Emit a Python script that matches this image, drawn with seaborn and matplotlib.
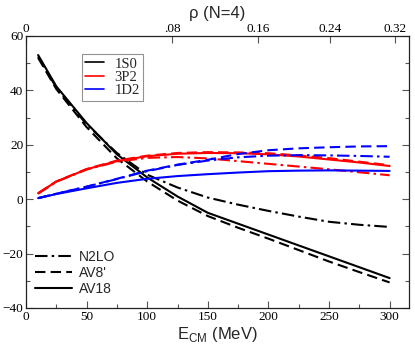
import numpy as np
import pandas as pd
import matplotlib
matplotlib.use("Agg")
import matplotlib.pyplot as plt
import seaborn as sns
from matplotlib.lines import Line2D
from matplotlib.ticker import MultipleLocator

# data (E_CM in MeV, phase shifts in degrees)
energy = [10, 25, 50, 75, 100, 125, 150, 175, 200, 225, 250, 275, 300]

s0_av18 = [53, 41.5, 28, 16.5, 8, 1, -5, -9, -13, -17, -21, -25, -29]
s0_av8p = [52, 40.5, 26.5, 15, 6.5, -0.5, -6.2, -10.5, -14.5, -18.7, -22.9, -26.8, -30.6]
s0_n2lo = [52.5, 41, 27.5, 17, 9, 4.3, 0.6, -2, -4.3, -6.4, -8.3, -9.4, -10.2]

p2_av18 = [2.2, 6.5, 11, 14, 15.8, 16.7, 17, 16.9, 16.5, 15.7, 14.6, 13.5, 12.2]
p2_av8p = [2.2, 6.5, 11.1, 14.2, 16, 17, 17.3, 17.2, 16.9, 16.1, 15.1, 13.8, 12.5]
p2_n2lo = [2.0, 6.4, 10.9, 13.8, 15.2, 15.5, 15, 14, 13, 12, 11, 9.9, 8.8]

d2_av18 = [0.4, 1.9, 4.0, 6.0, 7.5, 8.5, 9.2, 9.8, 10.3, 10.5, 10.6, 10.5, 10.4]
d2_av8p = [0.4, 2.0, 4.6, 7.5, 10.5, 12.7, 14.5, 16.6, 18.0, 18.7, 19.1, 19.4, 19.5]
d2_n2lo = [0.4, 2.0, 4.6, 7.4, 10.3, 12.6, 14.2, 15.4, 16.0, 16.2, 16.1, 15.9, 15.6]

waves = ["1S0", "3P2", "1D2"]
potentials = ["N2LO", "AV8'", "AV18"]
rho_ticks = [0, 0.08, 0.16, 0.24, 0.32]
rho_labels = ["0", ".08", "0.16", "0.24", "0.32"]

series = {
    ("1S0", "AV18"): s0_av18, ("1S0", "AV8'"): s0_av8p, ("1S0", "N2LO"): s0_n2lo,
    ("3P2", "AV18"): p2_av18, ("3P2", "AV8'"): p2_av8p, ("3P2", "N2LO"): p2_n2lo,
    ("1D2", "AV18"): d2_av18, ("1D2", "AV8'"): d2_av8p, ("1D2", "N2LO"): d2_n2lo,
}
rows = []
for (w, p), vals in series.items():
    for e, v in zip(energy, vals):
        rows.append({"E": e, "delta": v, "wave": w, "pot": p})
df = pd.DataFrame(rows)

# styles
sns.set_theme(style="ticks")
plt.rcParams["font.family"] = ["Liberation Serif", "DejaVu Serif"]
plt.rcParams["mathtext.fontset"] = "custom"
plt.rcParams["mathtext.rm"] = "Liberation Sans"

colours = {"1S0": "black", "3P2": "#ff0000", "1D2": "#0000ff"}
dash_styles = {"AV18": "", "AV8'": (5, 2.5), "N2LO": (6, 2, 1.2, 2)}

fig = plt.figure(figsize=(4.15, 3.5), dpi=100)
ax = fig.add_axes([26 / 415, 42 / 350, 383 / 415, 272 / 350])

sns.lineplot(data=df, x="E", y="delta", hue="wave", style="pot",
             palette=colours, dashes=dash_styles, estimator=None,
             legend=False, lw=1.5, ax=ax)

ax.set_xlim(0, 316)
ax.set_ylim(-40, 60)
ax.xaxis.set_major_locator(MultipleLocator(50))
ax.xaxis.set_minor_locator(MultipleLocator(25))
ax.yaxis.set_major_locator(MultipleLocator(20))
ax.yaxis.set_minor_locator(MultipleLocator(10))
ax.tick_params(which="both", direction="in", right=True, top=False,
               colors="#555555", labelcolor="black", labelsize=9.5, pad=2)
ax.tick_params(which="major", length=5, width=0.8)
ax.tick_params(which="minor", length=3, width=0.8)
for s in ax.spines.values():
    s.set_color("#222222")
    s.set_linewidth(0.9)

ax.set_xlabel(r"E$_{\mathregular{CM}}$ (MeV)", family="Liberation Sans",
              fontsize=12, labelpad=1.5)
ax.set_ylabel("")

# top axis in density, rho ~ E^1.5
C = 0.08 / 120.7 ** 1.5
def e2rho(e):
    return C * np.abs(e) ** 1.5
def rho2e(r):
    return (np.abs(r) / C) ** (2.0 / 3.0)

top = ax.secondary_xaxis("top", functions=(e2rho, rho2e))
top.set_xticks(rho_ticks)
top.set_xticklabels(rho_labels)
top.xaxis.set_minor_locator(plt.NullLocator())
top.tick_params(direction="in", length=5, width=0.8, colors="#555555",
                labelcolor="black", labelsize=9.5, pad=1)
top.spines["top"].set_visible(False)
top.set_xlabel("ρ (N=4)", family="Liberation Sans", fontsize=12, labelpad=3)

# legends
h1 = [Line2D([], [], color=colours[w], lw=1.2) for w in waves]
leg1 = ax.legend(h1, waves, loc="upper left", bbox_to_anchor=(0.145, 0.935),
                 frameon=True, fancybox=False, edgecolor="#777777",
                 prop={"family": "Liberation Serif", "size": 10.5},
                 handlelength=1.3, handletextpad=0.7, labelspacing=0.0,
                 borderpad=0.25, borderaxespad=0)
leg1.get_frame().set_linewidth(0.8)
ax.add_artist(leg1)

h2 = [Line2D([], [], color="black", lw=1.5, dashes=dash_styles[p]) if p != "AV18"
      else Line2D([], [], color="black", lw=1.5) for p in potentials]
ax.legend(h2, potentials, loc="upper left", bbox_to_anchor=(0.015, 0.225),
          frameon=False, prop={"family": "Liberation Sans", "size": 10},
          handlelength=2.7, handletextpad=0.5, labelspacing=0.15,
          borderpad=0.2, borderaxespad=0)

fig.savefig("out.png", dpi=100)
